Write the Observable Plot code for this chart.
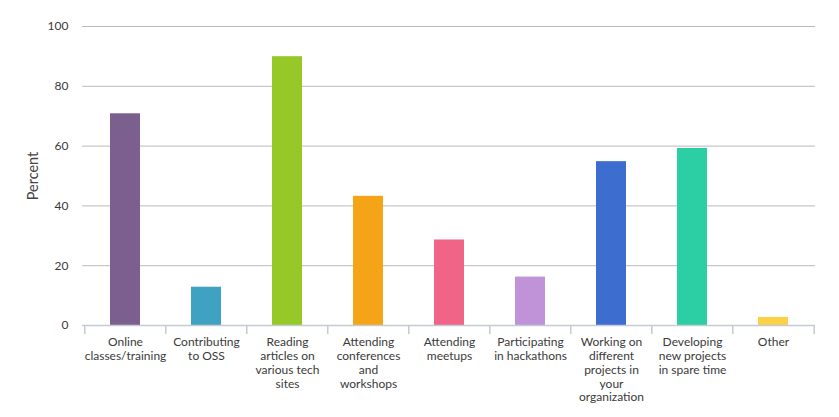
<!DOCTYPE html>
<html>
<head>
<meta charset="utf-8">
<script src="https://cdn.jsdelivr.net/npm/d3@7"></script>
<script src="https://cdn.jsdelivr.net/npm/@observablehq/plot@0.6"></script>
<style>
  html, body { margin: 0; padding: 0; background: #fff; }
  svg { font-family: Lato, "Open Sans", sans-serif; }
</style>
</head>
<body>
<div id="chart"></div>
<script>
const categories = [
  "Online classes/training",
  "Contributing to OSS",
  "Reading articles on various tech sites",
  "Attending conferences and workshops",
  "Attending meetups",
  "Participating in hackathons",
  "Working on different projects in your organization",
  "Developing new projects in spare time",
  "Other"
];
const tickLabels = [
  "Online\nclasses/training",
  "Contributing\nto OSS",
  "Reading\narticles on\nvarious tech\nsites",
  "Attending\nconferences\nand\nworkshops",
  "Attending\nmeetups",
  "Participating\nin hackathons",
  "Working on\ndifferent\nprojects in\nyour\norganization",
  "Developing\nnew projects\nin spare time",
  "Other"
];
const values = [70.8, 12.8, 89.9, 43.2, 28.6, 16.2, 54.8, 59.2, 2.7];
const colors = ["#7b5f8e", "#3fa2c2", "#96c828", "#f5a418", "#f06587", "#c093d9", "#3d6ecf", "#2bcfa3", "#fcd146"];
const yTicks = [0, 20, 40, 60, 80, 100];

const data = categories.map((c, i) => ({category: c, value: values[i]}));
const labelOf = new Map(categories.map((c, i) => [c, tickLabels[i]]));

const W = 839, H = 417, ML = 82, MR = 24, MT = 26, MB = 92;
const step = (W - ML - MR) / categories.length;

const chart = Plot.plot({
  width: W,
  height: H,
  marginLeft: ML,
  marginRight: MR,
  marginTop: MT,
  marginBottom: MB,
  style: {background: "#fff", fontFamily: "Lato, 'Open Sans', sans-serif"},
  x: {domain: categories, paddingInner: 0.63, paddingOuter: 0.315},
  y: {domain: [0, 100]},
  color: {domain: categories, range: colors},
  marks: [
    Plot.ruleY(yTicks.filter(d => d > 0), {stroke: "#bbbbbb", strokeWidth: 1}),
    Plot.barY(data, {x: "category", y: "value", fill: "category"}),
    Plot.ruleY([0], {stroke: "#c3ccd6", strokeWidth: 1.5}),
    Plot.ruleX(categories, {x: d => d, dx: -step / 2, y1: 0, y2: 0, insetBottom: -9, stroke: "#c3ccd6", strokeWidth: 1.5}),
    Plot.ruleX([categories[categories.length - 1]], {x: d => d, dx: step / 2, y1: 0, y2: 0, insetBottom: -9, stroke: "#c3ccd6", strokeWidth: 1.5}),
    Plot.axisY({ticks: yTicks, tickSize: 0, tickPadding: 14, fontSize: 12, color: "#3a3a3a", label: null}),
    Plot.axisY({ticks: [], tickSize: 0, fontSize: 14.5, color: "#444",
      label: "Percent", labelAnchor: "center", labelArrow: "none", labelOffset: 55}),
    Plot.axisX({tickSize: 0, tickPadding: 11, fontSize: 12, color: "#3a3a3a", lineHeight: 1.15,
      tickFormat: d => labelOf.get(d), label: null})
  ]
});
document.getElementById("chart").appendChild(chart);
</script>
</body>
</html>
